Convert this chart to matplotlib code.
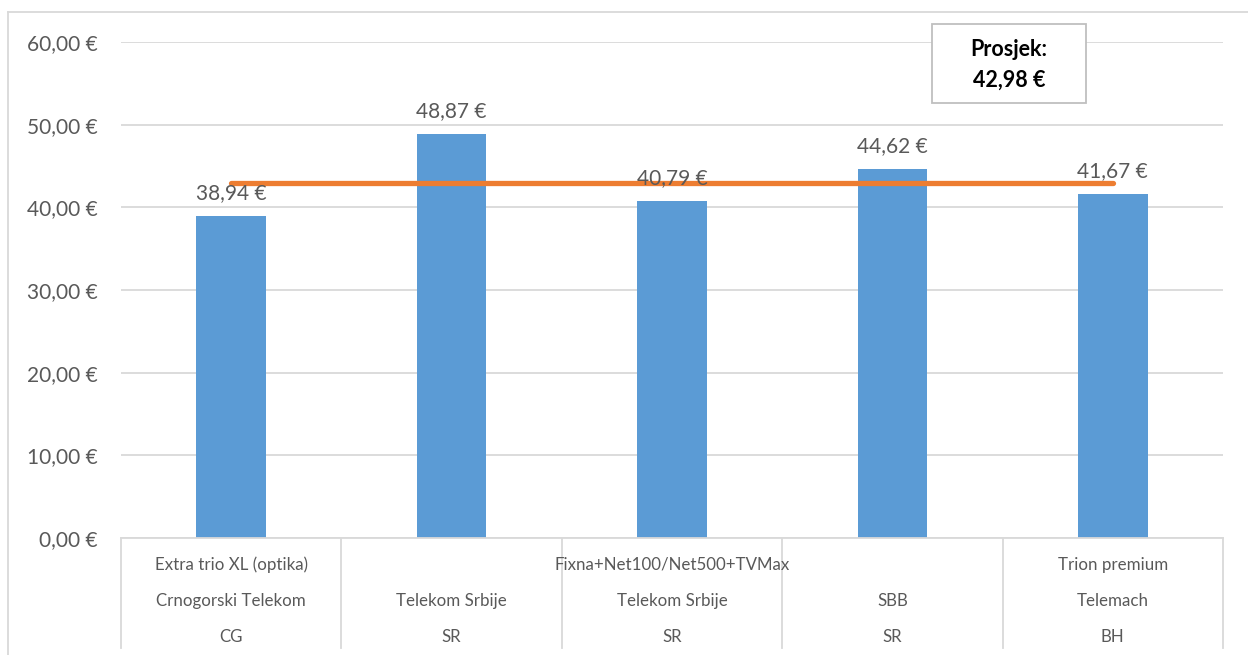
import matplotlib
matplotlib.use("Agg")
import matplotlib.pyplot as plt
from matplotlib.patches import Rectangle
from matplotlib.lines import Line2D
import matplotlib.transforms as mtransforms

plt.rcParams['font.family'] = ['Lato', 'DejaVu Sans']

# ---- data ----
products = ["Extra trio XL (optika)", "", "Fixna+Net100/Net500+TVMax", "", "Trion premium"]
operators = ["Crnogorski Telekom", "Telekom Srbije", "Telekom Srbije", "SBB", "Telemach"]
countries = ["CG", "SR", "SR", "SR", "BH"]
prices = [38.94, 48.87, 40.79, 44.62, 41.67]
average = 42.98
avg_series = [average] * len(prices)
yticks = [0, 10, 20, 30, 40, 50, 60]

def eur(v):
    return f"{v:.2f}".replace(".", ",") + " €"

W, H = 1248, 655
fig = plt.figure(figsize=(W / 100, H / 100), dpi=100)
fig.patch.set_facecolor("white")

def fx(px):
    return px / W

def fy(py):
    return (H - py) / H

ax_l, ax_r, ax_t, ax_b = 121, 1223, 42, 538
ax = fig.add_axes([fx(ax_l), fy(ax_b), fx(ax_r - ax_l), (ax_b - ax_t) / H])

x = list(range(len(prices)))
ax.bar(x, prices, width=0.315, color="#5B9BD5", zorder=2)
ax.plot(x, avg_series, color="#ED7D31", linewidth=3.8, solid_capstyle="round", zorder=3)

for xi, v in zip(x, prices):
    ax.annotate(eur(v), (xi, v), xytext=(0, 12), textcoords="offset points",
                ha="center", va="baseline", fontsize=15, color="#595959", zorder=4)

ax.set_xlim(-0.5, len(prices) - 0.5)
ax.set_ylim(0, 60)
ax.set_yticks(yticks)
ax.set_yticklabels([eur(v) for v in yticks], fontsize=15, color="#595959")
ax.tick_params(axis="y", length=0, pad=16.5)
ax.set_xticks([])
ax.grid(axis="y", color="#D9D9D9", linewidth=1.3, zorder=0)
for s in ["top", "right", "left"]:
    ax.spines[s].set_visible(False)
ax.spines["bottom"].set_color("#D9D9D9")
ax.spines["bottom"].set_linewidth(1.3)

# category table below axis
trans = mtransforms.blended_transform_factory(ax.transData, ax.transAxes)
hpx = ax_b - ax_t
bottom_y = -(648 - ax_b) / hpx
for b in [i - 0.5 for i in range(len(prices) + 1)]:
    ax.plot([b, b], [0, bottom_y], transform=trans, color="#D9D9D9",
            linewidth=1.3, clip_on=False)

rows = [(products, 565), (operators, 601), (countries, 637)]
for labels, ypx in rows:
    yy = -(ypx - ax_b) / hpx
    for xi, lab in zip(x, labels):
        if lab:
            ax.text(xi, yy, lab, transform=trans, ha="center", va="center",
                    fontsize=12.2, color="#595959", zorder=5)

# outer chart border
fig.add_artist(Line2D([fx(8), fx(8)], [fy(12), 0], transform=fig.transFigure,
                      color="#D9D9D9", linewidth=1.3))
fig.add_artist(Line2D([fx(8), 1], [fy(12), fy(12)], transform=fig.transFigure,
                      color="#D9D9D9", linewidth=1.3))

# average box
fig.add_artist(Rectangle((fx(932), fy(103)), fx(1086 - 932), (103 - 24) / H,
                         transform=fig.transFigure, facecolor="white",
                         edgecolor="#BFBFBF", linewidth=1.3, zorder=6))
fig.text(fx(1009), fy(50), "Prosjek:", ha="center", va="center", fontsize=15.5,
         fontweight="bold", color="black", zorder=7)
fig.text(fx(1009), fy(80), eur(average), ha="center", va="center", fontsize=15.5,
         fontweight="bold", color="black", zorder=7)

fig.savefig("out.png", dpi=100)
